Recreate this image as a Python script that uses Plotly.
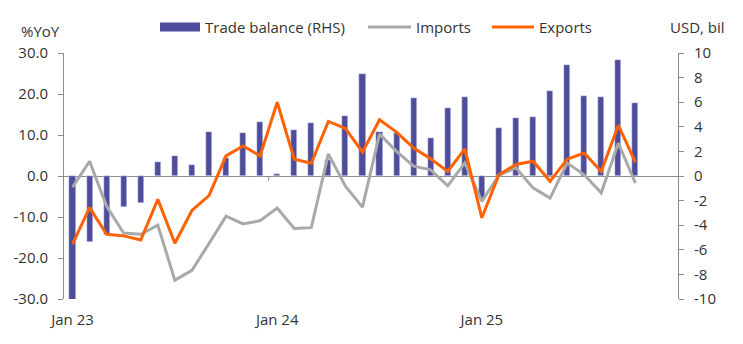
import plotly.graph_objects as go

# ---- data ----
months = list(range(34))  # Jan 23 ... Oct 25
tick_pos = [0, 12, 24]
tick_text = ["Jan 23", "Jan 24", "Jan 25"]

trade_balance = [-10.1, -5.37, -4.77, -2.55, -2.22, 1.17, 1.65, 0.92, 3.6, 1.49,
                 3.52, 4.42, 0.19, 3.77, 4.34, 1.3, 4.85, 8.27, 3.6, 3.5,
                 6.37, 3.12, 5.56, 6.45, -1.84, 3.93, 4.74, 4.82, 6.94, 9.05,
                 6.53, 6.45, 9.46, 5.96]
imports = [-2.7, 3.6, -7.4, -13.9, -14.2, -12.0, -25.4, -23.0, -16.5, -9.8,
           -11.7, -10.9, -7.8, -12.8, -12.6, 5.4, -2.5, -7.6, 10.2, 6.0,
           2.4, 1.5, -2.4, 3.2, -6.2, 0.2, 2.0, -2.9, -5.4, 3.2,
           0.3, -4.1, 8.0, -1.7]
exports = [-16.6, -7.7, -14.2, -14.6, -15.6, -5.7, -16.4, -8.4, -4.8, 4.9,
           7.3, 4.9, 18.0, 4.1, 3.1, 13.3, 11.6, 5.8, 13.7, 10.7,
           6.8, 4.2, 1.1, 6.6, -10.2, 0.3, 2.8, 3.6, -1.3, 4.1,
           5.6, 1.1, 12.4, 3.4]

left_ticks = [-30, -20, -10, 0, 10, 20, 30]
left_labels = ["-30.0", "-20.0", "-10.0", "0.0", "10.0", "20.0", "30.0"]
right_ticks = [-10, -8, -6, -4, -2, 0, 2, 4, 6, 8, 10]
right_labels = ["-10", "-8", "-6", "-4", "-2", "0", "2", "4", "6", "8", "10"]

BAR = "#4F4C9B"
ORANGE = "#FF6200"
GREY = "#A9A9A9"
AXIS = "#8C8C8C"
TEXT = "#333333"
FONT = "Open Sans"

W, H = 743, 344
L, R, T, B = 64, 65, 53, 45
PW, PH = W - L - R, H - T - B


def px(x):
    return (x - L) / PW


def py(y):
    return (H - B - y) / PH


fig = go.Figure()

# bars on primary y (right side), drawn underneath the lines
fig.add_trace(go.Bar(x=months, y=trade_balance, yaxis="y", marker_color=BAR,
                     width=0.36, showlegend=False, name="Trade balance (RHS)"))
fig.add_trace(go.Scatter(x=months, y=imports, yaxis="y2", mode="lines",
                         line=dict(color=GREY, width=3), showlegend=False, name="Imports"))
fig.add_trace(go.Scatter(x=months, y=exports, yaxis="y2", mode="lines",
                         line=dict(color=ORANGE, width=3), showlegend=False, name="Exports"))

# small tick marks on the zero line at year boundaries
for b in [11.5, 23.5]:
    fig.add_shape(type="line", xref="x", yref="y2", x0=b, x1=b, y0=0, y1=-1.2,
                  line=dict(color=AXIS, width=1))

# manual legend (symbols + labels)
legend_y = 27
fig.add_shape(type="rect", xref="paper", yref="paper", x0=px(160), x1=px(200),
              y0=py(legend_y + 4.5), y1=py(legend_y - 4.5), fillcolor=BAR, line_width=0)
fig.add_shape(type="line", xref="paper", yref="paper", x0=px(368), x1=px(411),
              y0=py(legend_y), y1=py(legend_y), line=dict(color=GREY, width=3))
fig.add_shape(type="line", xref="paper", yref="paper", x0=px(492), x1=px(534),
              y0=py(legend_y), y1=py(legend_y), line=dict(color=ORANGE, width=3))

annotations = []
for txt, x0 in [("Trade balance (RHS)", 203), ("Imports", 414), ("Exports", 537)]:
    annotations.append(dict(text=txt, xref="paper", yref="paper", x=px(x0), y=py(legend_y),
                            xanchor="left", yanchor="middle", showarrow=False,
                            font=dict(size=15)))
annotations.append(dict(text="%YoY", xref="paper", yref="paper", x=px(19), y=py(31),
                        xanchor="left", yanchor="middle", showarrow=False, font=dict(size=15)))
annotations.append(dict(text="USD, bil", xref="paper", yref="paper", x=px(668), y=py(27),
                        xanchor="left", yanchor="middle", showarrow=False, font=dict(size=15)))

fig.update_layout(
    width=W, height=H,
    margin=dict(l=L, r=R, t=T, b=B),
    paper_bgcolor="white", plot_bgcolor="white",
    font=dict(family=FONT, size=15, color=TEXT),
    showlegend=False,
    bargap=0,
    xaxis=dict(range=[-0.5, 35.5], tickvals=tick_pos, ticktext=tick_text,
               showgrid=False, zeroline=False, showline=False, ticks="",
               ticklabelstandoff=10),
    yaxis=dict(side="right", range=[-10, 10], tickvals=right_ticks, ticktext=right_labels,
               showgrid=False, zeroline=True, zerolinecolor=AXIS, zerolinewidth=1,
               showline=True, linecolor=AXIS, linewidth=1, ticks="outside",
               ticklen=5, tickcolor=AXIS, ticklabelstandoff=7, tickfont=dict(size=15)),
    yaxis2=dict(side="left", overlaying="y", range=[-30, 30], tickvals=left_ticks,
                ticktext=left_labels, showgrid=False, zeroline=False,
                showline=True, linecolor=AXIS, linewidth=1, ticks="outside",
                ticklen=5, tickcolor=AXIS, ticklabelstandoff=7, tickfont=dict(size=15)),
    annotations=annotations,
)

fig.write_html("out.html")
